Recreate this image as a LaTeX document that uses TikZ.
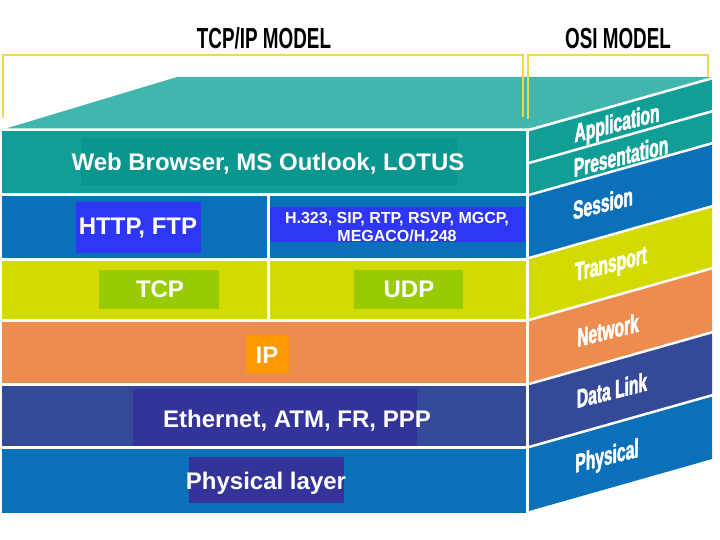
\documentclass[tikz,border=0pt]{standalone}
\usepackage{fontspec}
\setmainfont{Liberation Sans}
\newfontfamily\osifont[FakeStretch=0.6, FakeBold=2]{Liberation Sans}
\usepackage{graphicx}
\usepackage{tikz}
\usepackage{xcolor}
\usetikzlibrary{positioning}
\definecolor{topteal}{RGB}{64,182,173}
\definecolor{rowteal}{RGB}{17,158,150}
\definecolor{webteal}{RGB}{8,150,143}
\definecolor{rowblue}{RGB}{10,112,185}
\definecolor{boxblue}{RGB}{45,55,245}
\definecolor{rowyellow}{RGB}{211,218,0}
\definecolor{boxgreen}{RGB}{153,204,0}
\definecolor{roworange}{RGB}{236,140,78}
\definecolor{boxorange}{RGB}{255,153,0}
\definecolor{rowdark}{RGB}{52,74,152}
\definecolor{boxdark}{RGB}{51,51,153}
\definecolor{bracketyellow}{RGB}{240,215,80}

\begin{document}
\begin{tikzpicture}[x=1pt, y=-1pt,
    inbox/.style={inner sep=0pt, outer sep=0pt},
    proto/.style={text=white, inner sep=0pt, anchor=base, font=\bfseries\fontsize{24}{27}\selectfont},
    osilabel/.style={text=white, inner sep=0pt, yslant=0.25, font=\osifont\bfseries\fontsize{26}{28}\selectfont},
    title/.style={text=black, inner sep=0pt, anchor=base, font=\bfseries\fontsize{29}{32}\selectfont},
    sep/.style={white, line width=2.5pt}]
      \useasboundingbox (0,0) rectangle (720,540);
      % titles and brackets
      \node[title] (tcpip) at (264,49) {\scalebox{0.65}[1]{TCP/IP MODEL}};
      \node[title] (osi) at (618,49) {\scalebox{0.65}[1]{OSI MODEL}};
      % top face
      \fill[topteal] (6,128.5) -- (177,77) -- (712,77) -- (712,78) -- (529,128.5) -- cycle;
      \draw[bracketyellow, line width=1.6pt] (3,118) -- (3,55) -- (523,55) -- (523,117);
      \draw[bracketyellow, line width=1.6pt] (528,119) -- (528,55) -- (708,55) -- (708,77);
      % tcp/ip layers
      \fill[rowteal] (2,131) rectangle (526,193);
      \fill[rowblue] (2,196) rectangle (526,258);
      \fill[rowyellow] (2,261) rectangle (526,319);
      \fill[roworange] (2,322) rectangle (526,383);
      \fill[rowdark] (2,386) rectangle (526,446);
      \fill[rowblue] (2,449) rectangle (526,513);
      \fill[white] (267,196) rectangle (269.5,319);
      % osi layers
      \fill[rowteal] (529,130) -- (712,78) -- (712,143) -- (529,195) -- cycle;
      \fill[rowblue] (529,195) -- (712,143) -- (712,206) -- (529,258) -- cycle;
      \fill[rowyellow] (529,258) -- (712,206) -- (712,268) -- (529,320) -- cycle;
      \fill[roworange] (529,320) -- (712,268) -- (712,332) -- (529,384) -- cycle;
      \fill[rowdark] (529,384) -- (712,332) -- (712,395) -- (529,447) -- cycle;
      \fill[rowblue] (529,447) -- (712,395) -- (712,459) -- (529,511) -- cycle;
      \draw[sep] (529,130) -- (713,78);
      \draw[sep] (529,163) -- (713,111);
      \draw[sep] (529,195) -- (713,143);
      \draw[sep] (529,258) -- (713,206);
      \draw[sep] (529,320) -- (713,268);
      \draw[sep] (529,384) -- (713,332);
      \draw[sep] (529,447) -- (713,395);
      % protocol boxes
      \node[inbox, fill=webteal, minimum width=376pt, minimum height=47pt] (webbox) at (269,161.5) {};
      \node[inbox, fill=boxblue, minimum width=125pt, minimum height=51pt] (httpbox) at (138.5,227.5) {};
      \node[inbox, fill=boxblue, minimum width=255pt, minimum height=35pt] (h323box) at (397.5,224.5) {};
      \node[inbox, fill=boxgreen, minimum width=120pt, minimum height=39pt] (tcpbox) at (159,289.5) {};
      \node[inbox, fill=boxgreen, minimum width=109pt, minimum height=39pt] (udpbox) at (408.5,289.5) {};
      \node[inbox, fill=boxorange, minimum width=43pt, minimum height=38pt] (ipbox) at (267.5,354) {};
      \node[inbox, fill=boxdark, minimum width=284pt, minimum height=57pt] (ethbox) at (275,417.5) {};
      \node[inbox, fill=boxdark, minimum width=155pt, minimum height=46pt] (physbox) at (266.5,480) {};
      % protocol names
      \node[proto] (web) at (268,171) {Web Browser, MS Outlook, LOTUS};
      \node[proto] (http) at (138,235) {HTTP, FTP};
      \node[proto, anchor=center, align=center, font=\bfseries\fontsize{16}{18}\selectfont] (h323) at (397,227) {H.323, SIP, RTP, RSVP, MGCP,\\ MEGACO/H.248};
      \node[proto] (tcp) at (160,297) {TCP};
      \node[proto] (udp) at (409,297) {UDP};
      \node[proto] (ip) at (267,363) {IP};
      \node[proto] (eth) at (297,427) {Ethernet, ATM, FR, PPP};
      \node[proto] (phys) at (266,489) {Physical layer};
      % osi names
      \node[osilabel] (application) at (617,125) {Application};
      \node[osilabel] (presentation) at (621,156) {Presentation};
      \node[osilabel] (session) at (603,203) {Session};
      \node[osilabel] (transport) at (611,266) {Transport};
      \node[osilabel] (network) at (608,330) {Network};
      \node[osilabel] (datalink) at (612,390) {Data Link};
      \node[osilabel] (physical) at (607,458) {Physical};
    \end{tikzpicture}
\end{document}
